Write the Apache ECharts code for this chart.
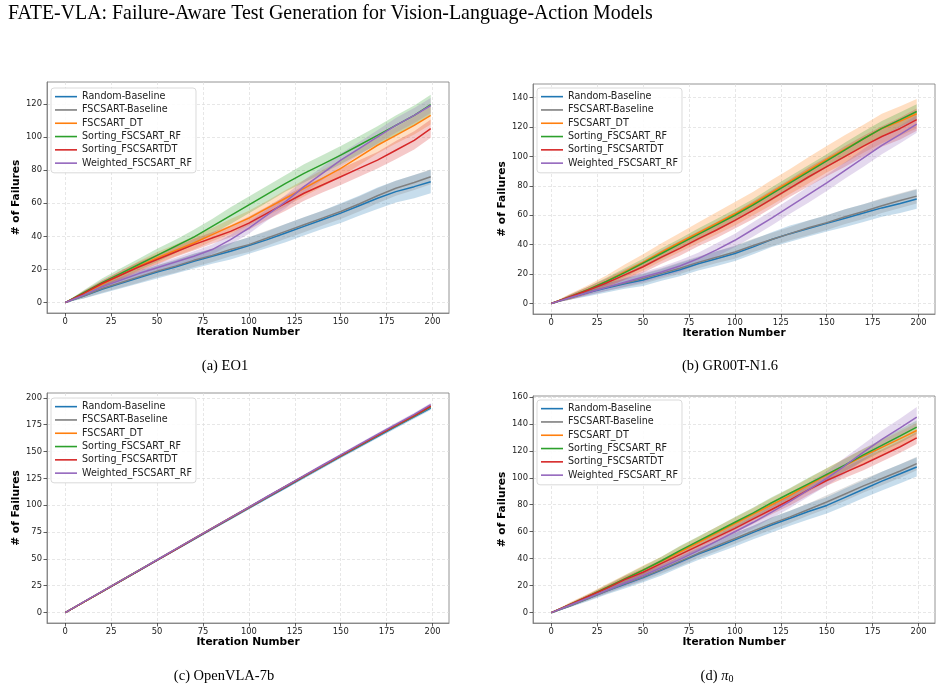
<!DOCTYPE html>
<html>
<head>
<meta charset="utf-8">
<script src="https://cdn.jsdelivr.net/npm/echarts@6/dist/echarts.min.js"></script>
<style>
  html, body { margin: 0; padding: 0; background: #fff; }
  #main { width: 942px; height: 692px; }
</style>
</head>
<body>
<div id="main"></div>
<script>
const iters = [0, 10, 20, 30, 40, 50, 60, 70, 80, 90, 100, 110, 120, 130, 140, 150, 160, 170, 180, 190, 199]
const seriesNames = ['Random-Baseline', 'FSCSART-Baseline', 'FSCSART_DT', 'Sorting_FSCSART_RF', 'Sorting_FSCSARTDT', 'Weighted_FSCSART_RF']
const colors = ['#1f77b4', '#7f7f7f', '#ff7f0e', '#2ca02c', '#d62728', '#9467bd']
const xTicks = [0, 25, 50, 75, 100, 125, 150, 175, 200]

// (a) EO1
const eo1Random = [0, 4, 8, 11.5, 15, 18.5, 21.5, 25, 28, 31, 34.5, 38, 42, 46, 50, 54, 58.5, 63, 67, 70, 73]
const eo1Fscsart = [0, 4, 8.5, 12, 15.5, 19, 22, 25.5, 28.5, 32, 35, 39, 43, 47, 51, 55, 59.5, 64.5, 69, 72.5, 76]
const eo1Dt = [0, 5.5, 11, 16.5, 22, 27, 31.5, 36, 41, 46, 51, 57, 63, 69, 75, 81, 88, 95, 101, 107, 113]
const eo1SortRf = [0, 6, 12, 17.5, 23, 28.5, 34, 39.5, 46, 52.5, 59, 65.5, 72, 78, 83.5, 89, 95, 101, 107, 113, 119.5]
const eo1SortDt = [0, 5.5, 11.5, 16.5, 21.5, 26, 30.5, 35, 39, 43, 48, 54, 60, 66, 71, 76, 81, 86, 92, 98, 105]
const eo1Weighted = [0, 4.5, 9.5, 13.5, 17.5, 21, 24.5, 28, 32, 38, 45, 53, 61, 70, 78, 86, 93, 100, 107, 113, 119]
const eo1RandomSd = [0, 1.5, 2.5, 3, 3.5, 4, 4, 4.5, 4.5, 5, 5, 5, 5.5, 5.5, 5.5, 6, 6, 6.5, 6.5, 7, 7]
const eo1FscsartSd = [0, 1.5, 2.5, 3, 3.5, 3.5, 4, 4, 4, 4, 4.5, 4.5, 4.5, 4.5, 4.5, 4.5, 4.5, 4.5, 4.5, 4.5, 4.5]
const eo1DtSd = [0, 1.5, 2, 2.5, 3, 3.5, 3.5, 4, 4, 4.5, 4.5, 4.5, 5, 5, 5, 5, 5, 5, 5, 5.5, 5.5]
const eo1SortRfSd = [0, 1.5, 2.5, 3, 3.5, 4, 4, 4.5, 4.5, 5, 5, 5, 5, 5.5, 5.5, 5.5, 5.5, 5.5, 6, 6, 6]
const eo1SortDtSd = [0, 1.5, 2, 2.5, 3, 3, 3, 3.5, 3.5, 3.5, 4, 4, 4.5, 4.5, 4.5, 5, 5, 5, 5.5, 5.5, 5.5]
const eo1WeightedSd = [0, 1, 1.5, 2, 2, 2.5, 2.5, 3, 3, 3, 3.5, 3.5, 4, 4, 4, 4, 4, 4, 4.5, 4.5, 4.5]

// (b) GR00T-N1.6
const grRandom = [0, 4, 7.5, 10.5, 13.5, 16, 19.5, 23, 27, 30.5, 34, 38.5, 43.5, 47.5, 51, 54.5, 58, 61.5, 65, 68, 71]
const grFscsart = [0, 4, 8, 11, 14, 17, 20.5, 24, 28, 31.5, 35, 39.5, 43.5, 47.5, 51.5, 55, 59, 62.5, 66.5, 70, 73]
const grDt = [0, 4.5, 9.5, 15, 21.5, 28, 35, 41.5, 48, 54.5, 61, 68, 75.5, 83, 90.5, 98, 105, 112, 119, 124, 129]
const grSortRf = [0, 4.5, 9.5, 15, 21, 27.5, 34, 40.5, 47, 53.5, 60, 67, 74.5, 82, 89.5, 97, 104.5, 112, 119, 125, 130.5]
const grSortDt = [0, 4.5, 9, 14, 19.5, 25, 31.5, 37.5, 44, 50, 56.5, 63.5, 71, 78.5, 86, 93, 100, 107, 113.5, 119, 125]
const grWeighted = [0, 4, 7.5, 11, 14.5, 18, 21.5, 25.5, 30.5, 36.5, 43, 50.5, 58, 66, 74, 82, 90.5, 99, 107.5, 115, 122]
const grRandomSd = [0, 1.5, 2.5, 3, 3.5, 4, 4, 4.5, 4.5, 5, 5, 5, 5, 5.5, 5.5, 5.5, 6, 6, 6, 6.5, 6.5]
const grFscsartSd = [0, 1.5, 2, 2.5, 3, 3.5, 3.5, 4, 4, 4, 4.5, 4.5, 4.5, 4.5, 5, 5, 5, 5, 5, 5, 5]
const grDtSd = [0, 2, 3, 4, 5, 5.5, 6, 6.5, 7, 7.5, 8, 8, 8.5, 8.5, 9, 9, 9.5, 9.5, 10, 10, 10]
const grSortRfSd = [0, 1.5, 2, 2.5, 3, 3, 3.5, 3.5, 4, 4, 4, 4, 4.5, 4.5, 4.5, 4.5, 5, 5, 5, 5, 5]
const grSortDtSd = [0, 1.5, 2.5, 3, 3.5, 4, 4.5, 5, 5, 5.5, 5.5, 6, 6, 6, 6.5, 6.5, 7, 7, 7, 7.5, 7.5]
const grWeightedSd = [0, 1.5, 2, 2.5, 3, 3.5, 3.5, 4, 4, 4.5, 4.5, 5, 5, 5, 5.5, 5.5, 5.5, 6, 6, 6, 6]

// (c) OpenVLA-7b
const ovRandom = [0, 9.7, 19.4, 29.1, 38.9, 48.6, 58.4, 68.2, 77.9, 87.6, 97.2, 106.9, 116.5, 126.1, 135.7, 145.2, 154.6, 164, 173.2, 182.2, 190.5]
const ovFscsart = [0, 9.8, 19.5, 29.3, 39.1, 48.9, 58.7, 68.5, 78.2, 87.9, 97.6, 107.3, 117, 126.6, 136.2, 145.7, 155.1, 164.5, 173.8, 182.8, 191.3]
const ovDt = [0, 9.8, 19.6, 29.4, 39.3, 49.1, 58.9, 68.8, 78.6, 88.3, 98, 107.8, 117.5, 127.1, 136.7, 146.2, 155.7, 165.1, 174.4, 183.5, 192.3]
const ovSortRf = [0, 9.8, 19.6, 29.4, 39.2, 49, 58.8, 68.7, 78.5, 88.2, 97.9, 107.7, 117.4, 127, 136.6, 146.1, 155.6, 165, 174.2, 183.3, 192]
const ovSortDt = [0, 9.7, 19.5, 29.3, 39.1, 48.9, 58.7, 68.6, 78.4, 88.2, 97.9, 107.7, 117.4, 127.1, 136.7, 146.2, 155.7, 165.1, 174.4, 183.5, 192.4]
const ovWeighted = [0, 9.9, 19.7, 29.6, 39.4, 49.2, 59.1, 68.9, 78.7, 88.5, 98.3, 108.1, 117.8, 127.5, 137.2, 146.8, 156.4, 165.9, 175.3, 184.6, 193.6]
const ovRandomSd = [0, 0.3, 0.5, 0.6, 0.7, 0.8, 0.9, 1, 1, 1.1, 1.2, 1.2, 1.3, 1.4, 1.4, 1.5, 1.5, 1.6, 1.7, 1.7, 1.8]
const ovFscsartSd = [0, 0.2, 0.3, 0.4, 0.5, 0.5, 0.6, 0.6, 0.7, 0.7, 0.8, 0.8, 0.8, 0.9, 0.9, 0.9, 1, 1, 1, 1, 1]
const ovDtSd = [0, 0.2, 0.3, 0.4, 0.4, 0.5, 0.5, 0.6, 0.6, 0.6, 0.7, 0.7, 0.7, 0.8, 0.8, 0.8, 0.8, 0.9, 0.9, 0.9, 0.9]
const ovSortRfSd = [0, 0.2, 0.3, 0.4, 0.4, 0.5, 0.5, 0.6, 0.6, 0.6, 0.7, 0.7, 0.7, 0.8, 0.8, 0.8, 0.8, 0.9, 0.9, 0.9, 0.9]
const ovSortDtSd = [0, 0.2, 0.3, 0.4, 0.5, 0.5, 0.6, 0.6, 0.7, 0.7, 0.7, 0.8, 0.8, 0.8, 0.9, 0.9, 0.9, 1, 1, 1, 1]
const ovWeightedSd = [0, 0.3, 0.4, 0.5, 0.6, 0.7, 0.7, 0.8, 0.9, 0.9, 1, 1, 1.1, 1.1, 1.2, 1.2, 1.3, 1.3, 1.4, 1.4, 1.5]

// (d) pi_0
const piRandom = [0, 5, 10.5, 16, 21, 26, 31.5, 37.5, 43.5, 48.5, 54, 59.5, 65, 70, 75, 79.5, 85.5, 91.5, 97.5, 103, 108]
const piFscsart = [0, 5, 10.5, 16, 21.5, 26.5, 32, 38, 44, 49.5, 55, 60.5, 66, 71, 76.5, 82, 88, 94, 99.5, 105, 110.5]
const piDt = [0, 6, 12, 18.5, 25, 31.5, 38, 45, 52, 59, 66, 73, 80, 87, 94.5, 102, 109, 116, 122.5, 129, 135]
const piSortRf = [0, 6, 12, 18.5, 25, 31.5, 38.5, 46, 53, 60, 67, 74, 81.5, 88.5, 95.5, 102.5, 109.5, 117, 124, 131, 137.5]
const piSortDt = [0, 6, 12, 18, 24.5, 30, 36.5, 43, 49.5, 56, 62.5, 69.5, 76.5, 83.5, 91, 98, 104, 110, 116.5, 123, 129.5]
const piWeighted = [0, 5.5, 11, 16.5, 22, 27.5, 33.5, 39.5, 46, 53, 60, 67, 74.5, 82.5, 91, 99.5, 109, 119, 128.5, 137, 145]
const piRandomSd = [0, 1, 2, 2.5, 3, 3.5, 4, 4, 4.5, 4.5, 5, 5, 5.5, 5.5, 6, 6, 6.5, 6.5, 7, 7, 7]
const piFscsartSd = [0, 1, 1.5, 2, 2.5, 3, 3, 3.5, 3.5, 4, 4, 4, 4.5, 4.5, 4.5, 5, 5, 5, 5, 5, 5]
const piDtSd = [0, 1.5, 2, 2.5, 3, 3.5, 3.5, 4, 4, 4.5, 4.5, 4.5, 5, 5, 5, 5, 5.5, 5.5, 5.5, 5.5, 5.5]
const piSortRfSd = [0, 1, 1.5, 2, 2.5, 3, 3, 3.5, 3.5, 3.5, 4, 4, 4, 4, 4.5, 4.5, 4.5, 4.5, 4.5, 5, 5]
const piSortDtSd = [0, 1, 1.5, 2, 2.5, 2.5, 3, 3, 3, 3.5, 3.5, 3.5, 3.5, 4, 4, 4, 4, 4.5, 4.5, 4.5, 4.5]
const piWeightedSd = [0, 1, 1.5, 2, 2.5, 3, 3, 3.5, 3.5, 4, 4, 4.5, 4.5, 5, 5, 5.5, 6, 6, 6.5, 7, 7.5]

const panels = [
  {
    grid: { left: 47, top: 82, width: 402, height: 231 },
    yMin: -6.3, yMax: 133.2, yTicks: [0, 20, 40, 60, 80, 100, 120],
    legend: { left: 51, top: 88 },
    means: [eo1Random, eo1Fscsart, eo1Dt, eo1SortRf, eo1SortDt, eo1Weighted],
    sds: [eo1RandomSd, eo1FscsartSd, eo1DtSd, eo1SortRfSd, eo1SortDtSd, eo1WeightedSd]
  },
  {
    grid: { left: 533, top: 84, width: 402, height: 230 },
    yMin: -7.1, yMax: 149.2, yTicks: [0, 20, 40, 60, 80, 100, 120, 140],
    legend: { left: 537, top: 88 },
    means: [grRandom, grFscsart, grDt, grSortRf, grSortDt, grWeighted],
    sds: [grRandomSd, grFscsartSd, grDtSd, grSortRfSd, grSortDtSd, grWeightedSd]
  },
  {
    grid: { left: 47, top: 393, width: 402, height: 230 },
    yMin: -9.7, yMax: 204.5, yTicks: [0, 25, 50, 75, 100, 125, 150, 175, 200],
    legend: { left: 51, top: 398 },
    means: [ovRandom, ovFscsart, ovDt, ovSortRf, ovSortDt, ovWeighted],
    sds: [ovRandomSd, ovFscsartSd, ovDtSd, ovSortRfSd, ovSortDtSd, ovWeightedSd]
  },
  {
    grid: { left: 533, top: 396, width: 402, height: 227 },
    yMin: -7.65, yMax: 160.6, yTicks: [0, 20, 40, 60, 80, 100, 120, 140, 160],
    legend: { left: 537, top: 400 },
    means: [piRandom, piFscsart, piDt, piSortRf, piSortDt, piWeighted],
    sds: [piRandomSd, piFscsartSd, piDtSd, piSortRfSd, piSortDtSd, piWeightedSd]
  }
]

const chart = echarts.init(document.getElementById('main'), null, { renderer: 'canvas' })

const spineColor = '#7a7a7a'
const tickText = { fontSize: 8.4, color: '#222', fontFamily: 'DejaVu Sans' }
const nameText = { fontSize: 10.6, fontWeight: 'bold', color: '#000', fontFamily: 'DejaVu Sans' }

const grids = []
const xAxes = []
const yAxes = []
const legends = []
const series = []

// shaded mean +/- sd band, drawn once as a polygon through the axis scales
function bandSeries(g, m, sd, color) {
  const rows = iters.map((x, i) => [x, m[i] - sd[i], m[i] + sd[i]])
  return {
    type: 'custom', xAxisIndex: g, yAxisIndex: g, silent: true, clip: true,
    data: rows,
    encode: { x: 0, y: [1, 2] },
    renderItem: function (params, api) {
      if (params.dataIndex !== 0) return null
      const upper = rows.map(r => api.coord([r[0], r[2]]))
      const lower = rows.map(r => api.coord([r[0], r[1]])).reverse()
      return {
        type: 'polygon',
        shape: { points: upper.concat(lower) },
        style: { fill: color, opacity: 0.25 }
      }
    }
  }
}

panels.forEach((p, g) => {
  grids.push(Object.assign({ show: true, borderColor: spineColor, borderWidth: 0.8, backgroundColor: '#fff' }, p.grid))
  xAxes.push({
    type: 'value', gridIndex: g, min: -9.95, max: 208.95,
    name: 'Iteration Number', nameLocation: 'middle', nameGap: 14, nameTextStyle: nameText,
    axisLine: { show: true, onZero: false, lineStyle: { color: spineColor, width: 0.8 } },
    axisTick: { show: true, length: 3.5, customValues: xTicks, lineStyle: { color: '#333', width: 0.8 } },
    axisLabel: Object.assign({ margin: 5, customValues: xTicks }, tickText),
    splitLine: { show: true, lineStyle: { type: [3, 2], color: '#dcdcdc', width: 0.7 } }
  })
  yAxes.push({
    type: 'value', gridIndex: g, min: p.yMin, max: p.yMax,
    name: '# of Failures', nameLocation: 'middle', nameGap: 23, nameTextStyle: nameText,
    axisLine: { show: true, onZero: false, lineStyle: { color: spineColor, width: 0.8 } },
    axisTick: { show: true, length: 3.5, customValues: p.yTicks, lineStyle: { color: '#333', width: 0.8 } },
    axisLabel: Object.assign({ margin: 5, customValues: p.yTicks }, tickText),
    splitLine: { show: true, lineStyle: { type: [3, 2], color: '#dcdcdc', width: 0.7 } }
  })
  legends.push({
    left: p.legend.left, top: p.legend.top, orient: 'vertical',
    data: seriesNames, icon: 'rect', itemWidth: 22, itemHeight: 1.6, itemGap: 2,
    selectedMode: false,
    textStyle: { fontSize: 9.6, color: '#222', fontFamily: 'DejaVu Sans', lineHeight: 11.3 },
    backgroundColor: 'rgba(255,255,255,0.85)', borderColor: '#d0d0d0', borderWidth: 0.8, borderRadius: 3,
    padding: [3, 4, 4, 4]
  })
  p.means.forEach((m, s) => {
    series.push(bandSeries(g, m, p.sds[s], colors[s]))
    series.push({
      name: seriesNames[s], type: 'line', xAxisIndex: g, yAxisIndex: g,
      symbol: 'none', color: colors[s], lineStyle: { color: colors[s], width: 1.5 },
      data: iters.map((x, i) => [x, m[i]])
    })
  })
})

const serif = 'Liberation Serif'
const option = {
  animation: false,
  backgroundColor: '#fff',
  textStyle: { fontFamily: 'DejaVu Sans' },
  grid: grids,
  xAxis: xAxes,
  yAxis: yAxes,
  legend: legends,
  series: series,
  graphic: [
    { type: 'text', left: 8, top: 4, style: { text: 'FATE-VLA: Failure-Aware Test Generation for Vision-Language-Action Models', fontSize: 19.9, fontFamily: serif, fill: '#000' } },
    { type: 'text', x: 225, y: 366, style: { text: '(a) EO1', fontSize: 14.5, fontFamily: serif, fill: '#000', align: 'center', verticalAlign: 'middle' } },
    { type: 'text', x: 730, y: 366, style: { text: '(b) GR00T-N1.6', fontSize: 14.5, fontFamily: serif, fill: '#000', align: 'center', verticalAlign: 'middle' } },
    { type: 'text', x: 224, y: 676, style: { text: '(c) OpenVLA-7b', fontSize: 14.5, fontFamily: serif, fill: '#000', align: 'center', verticalAlign: 'middle' } },
    { type: 'text', x: 717, y: 676, style: {
      text: '{n|(d) }{p|π}{s|0}', align: 'center', verticalAlign: 'middle', fill: '#000',
      rich: {
        n: { fontSize: 14.5, fontFamily: serif, fill: '#000' },
        p: { fontSize: 14.5, fontFamily: serif, fontStyle: 'italic', fill: '#000' },
        s: { fontSize: 10, fontFamily: serif, fill: '#000', padding: [7, 0, 0, 0] }
      }
    } }
  ]
}

chart.setOption(option)
</script>
</body>
</html>
